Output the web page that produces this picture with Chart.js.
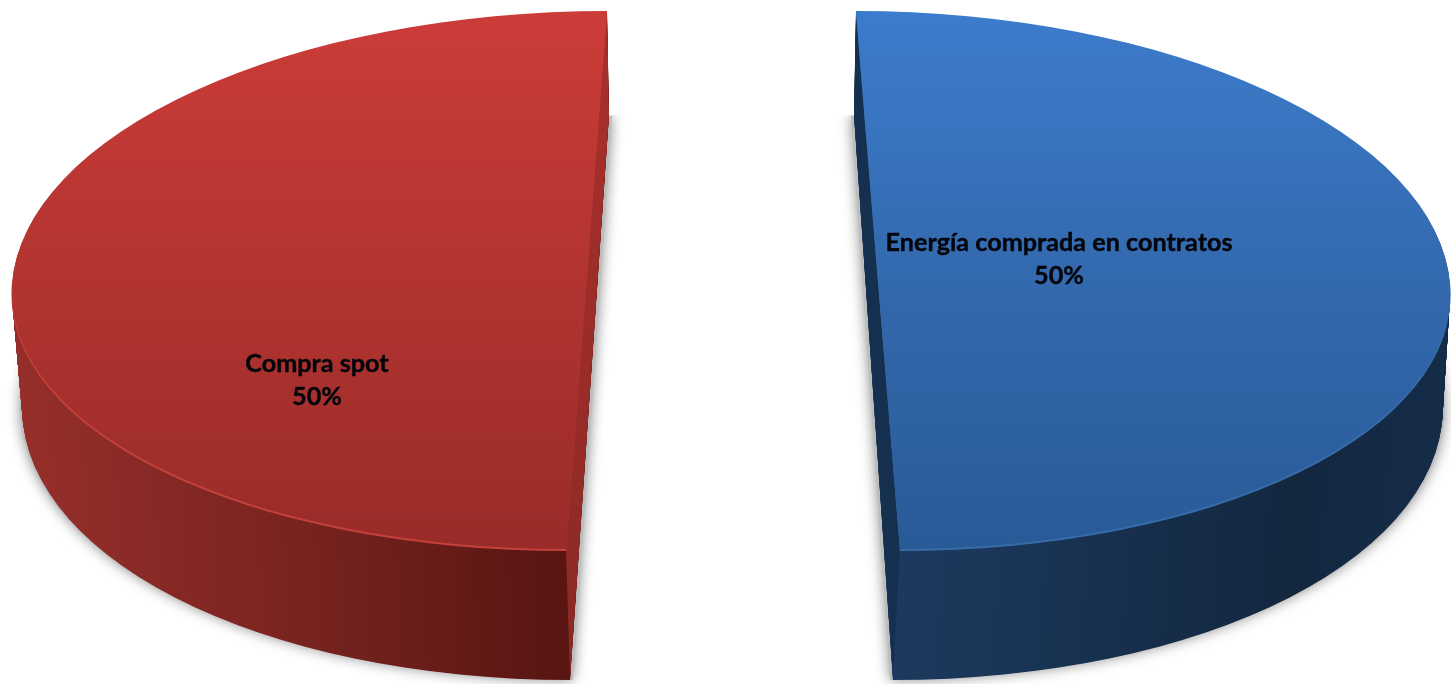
<!DOCTYPE html>
<html>
<head>
<meta charset="utf-8">
<title>Compra de energía</title>
<script src="https://cdn.jsdelivr.net/npm/chart.js@4"></script>
<style>
    html, body { margin: 0; padding: 0; background: #fff; overflow: hidden; }
    canvas { display: block; }
</style>
</head>
<body>
<canvas id="pieChart" width="1451" height="684"></canvas>
<script>
// Chart data
const categories = ['Energía comprada en contratos', 'Compra spot'];
const shares = [50, 50];

// Perspective of each slice: C = point on the cut, up/down = along the cut, side = out to the rim.
// Top face and bottom face of the 3D block, same order as categories.
const slices = [
    {
        top: { C: [878.2, 283], up: [22.2, 272], down: [21.8, 266], side: [571.5, 0] },
        bottom: { C: [873.5, 398], up: [19.5, 283], down: [19.5, 282], side: [569, 0] },
        outward: 1,
        face: ['#3c7ccc', '#3369ad', '#295a98'],
        rim: '#376ca9',
        wall: ['#1c3a5f', '#13273f', '#152c49'],
        cut: ['#15304f', '#16304f'],
        label: [1059, 243]
    },
    {
        top: { C: [586.3, 283], up: [-20.7, 272], down: [-20.3, 266], side: [574, 0] },
        bottom: { C: [589.5, 398], up: [-19.5, 283], down: [-19.5, 282], side: [567, 0] },
        outward: -1,
        face: ['#cc3c38', '#b13430', '#992b28'],
        rim: '#c4403b',
        wall: ['#962f2b', '#7a2420', '#581512'],
        cut: ['#aa302c', '#8a2925'],
        label: [317, 364]
    }
];

const layerCount = 140;

function mix(a, b, t) {
    return {
        C: [a.C[0] + (b.C[0] - a.C[0]) * t, a.C[1] + (b.C[1] - a.C[1]) * t],
        up: [a.up[0] + (b.up[0] - a.up[0]) * t, a.up[1] + (b.up[1] - a.up[1]) * t],
        down: [a.down[0] + (b.down[0] - a.down[0]) * t, a.down[1] + (b.down[1] - a.down[1]) * t],
        side: [a.side[0] + (b.side[0] - a.side[0]) * t, a.side[1] + (b.side[1] - a.side[1]) * t]
    };
}

// Send the arc's circle coordinates onto the slanted slice
function applyPlane(ctx, arc, plane, along) {
    const R = arc.outerRadius;
    const a = plane.side[0] / R, b = plane.side[1] / R;
    const c = along[0] / R, d = along[1] / R;
    ctx.transform(a, b, c, d,
        plane.C[0] - a * arc.x - c * arc.y,
        plane.C[1] - b * arc.x - d * arc.y);
}

// Draw the library's arc on a plane, far half and near half separately
function drawArc(ctx, arc, plane, fill) {
    const R = arc.outerRadius;
    const saved = arc.options;
    const halves = [
        { along: plane.up, y: arc.y - R - 2, h: R + 2.5 },
        { along: plane.down, y: arc.y - 0.5, h: R + 2.5 }
    ];
    halves.forEach(half => {
        ctx.save();
        applyPlane(ctx, arc, plane, half.along);
        ctx.beginPath();
        ctx.rect(arc.x - R - 2, half.y, 2 * R + 4, half.h);
        ctx.clip();
        arc.options = { ...saved, backgroundColor: typeof fill === 'function' ? fill(ctx) : fill };
        arc.draw(ctx);
        ctx.restore();
    });
    arc.options = saved;
}

function cutPoints(plane) {
    const topPoint = [plane.C[0] - plane.up[0], plane.C[1] - plane.up[1]];
    const lowPoint = [plane.C[0] + plane.down[0], plane.C[1] + plane.down[1]];
    return [topPoint, lowPoint];
}

const block3d = {
    id: 'block3d',
    beforeDatasetsDraw(chart) {
        const ctx = chart.ctx;
        const arcs = chart.getDatasetMeta(0).data;

        arcs.forEach((arc, i) => {
            const s = slices[i];
            const R = arc.outerRadius;
            const saved = arc.options;

            // soft shadow under the bottom face, in one piece so it has no seam
            ctx.save();
            ctx.beginPath();
            ctx.rect(0, s.bottom.C[1] - s.bottom.up[1], chart.width, chart.height);
            ctx.clip();
            ctx.shadowColor = 'rgba(130,130,130,0.9)';
            ctx.shadowBlur = 13;
            const grown = {
                C: [s.bottom.C[0] - s.outward * 3, s.bottom.C[1]],
                side: [s.bottom.side[0] + 5, 0]
            };
            applyPlane(ctx, arc, grown, s.bottom.down);
            arc.options = { ...saved, backgroundColor: '#bdbdbd' };
            arc.draw(ctx);
            arc.options = saved;
            ctx.restore();

            // outer wall, stacked from the bottom face up to the top face
            const wallFill = c => {
                const g = c.createLinearGradient(arc.x - R, 0, arc.x + R, 0);
                if (i === 1) {
                    g.addColorStop(0, s.wall[0]);
                    g.addColorStop(0.25, s.wall[1]);
                    g.addColorStop(0.5, s.wall[2]);
                } else {
                    g.addColorStop(0.5, s.wall[0]);
                    g.addColorStop(0.85, s.wall[1]);
                    g.addColorStop(1, s.wall[2]);
                }
                return g;
            };
            for (let n = layerCount; n >= 1; n--) {
                drawArc(ctx, arc, mix(s.top, s.bottom, n / layerCount), wallFill);
            }

            // cut side of the block
            const [t1, b1] = cutPoints(s.top);
            const [t2, b2] = cutPoints(s.bottom);
            const cutFill = ctx.createLinearGradient(0, t1[1], 0, b2[1]);
            cutFill.addColorStop(0, s.cut[0]);
            cutFill.addColorStop(1, s.cut[1]);
            ctx.fillStyle = cutFill;
            ctx.beginPath();
            ctx.moveTo(t1[0], t1[1]);
            ctx.lineTo(t2[0], t2[1]);
            ctx.lineTo(b2[0], b2[1]);
            ctx.lineTo(b1[0], b1[1]);
            ctx.closePath();
            ctx.fill();

            // light rim on the front edge, then the top face
            const rimPlane = { ...s.top, C: [s.top.C[0], s.top.C[1] + 2], side: [s.top.side[0] + 0.5, 0] };
            drawArc(ctx, arc, rimPlane, s.rim);
            const faceFill = c => {
                const g = c.createLinearGradient(0, arc.y - R, 0, arc.y + R);
                g.addColorStop(0, s.face[0]);
                g.addColorStop(0.5, s.face[1]);
                g.addColorStop(1, s.face[2]);
                return g;
            };
            drawArc(ctx, arc, s.top, faceFill);
        });
        return false;
    },
    afterDraw(chart) {
        const ctx = chart.ctx;
        ctx.save();
        ctx.fillStyle = '#04060c';
        ctx.strokeStyle = '#04060c';
        ctx.lineWidth = 0.4;
        ctx.font = 'bold 25.2px Lato, "Open Sans", sans-serif';
        ctx.textAlign = 'center';
        ctx.textBaseline = 'middle';
        categories.forEach((name, i) => {
            const [x, y] = slices[i].label;
            const lines = [name, shares[i] + '%'];
            lines.forEach((line, k) => {
                ctx.fillText(line, x, y + k * 33);
                ctx.strokeText(line, x, y + k * 33);
            });
        });
        ctx.restore();
    }
};

new Chart(document.getElementById('pieChart'), {
    type: 'pie',
    data: {
        labels: categories,
        datasets: [{
            data: shares,
            backgroundColor: ['#3369ad', '#b13430'],
            borderWidth: 0
        }]
    },
    options: {
        responsive: false,
        animation: false,
        layout: { padding: 0 },
        plugins: {
            legend: { display: false },
            tooltip: { enabled: false }
        }
    },
    plugins: [block3d]
});
</script>
</body>
</html>
